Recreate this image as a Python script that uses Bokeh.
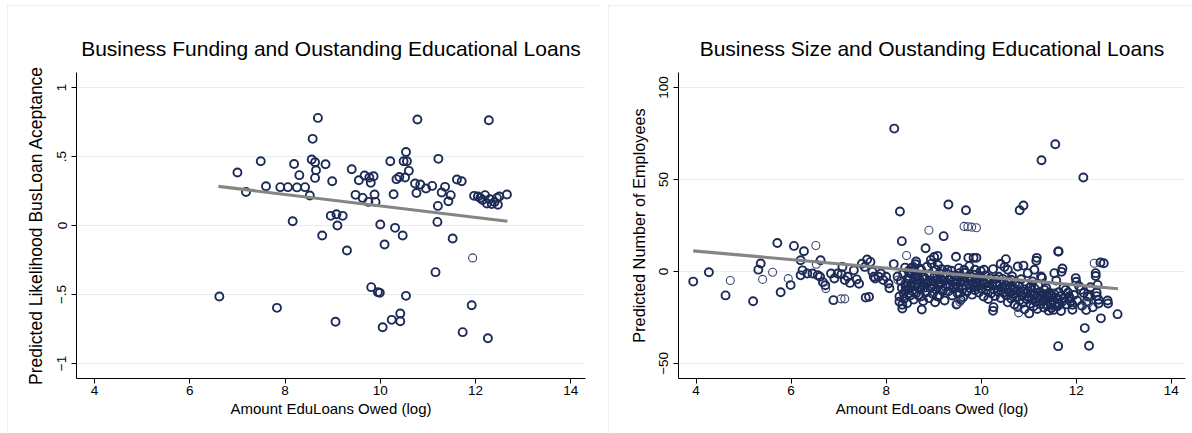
from bokeh.plotting import figure
from bokeh.layouts import row, column
from bokeh.models import FixedTicker, Range1d, Title, Spacer
from bokeh.embed import file_html
from bokeh.resources import INLINE

# ---------------- data ----------------
left_title = "Business Funding and Oustanding Educational Loans"
left_xlabel = "Amount EduLoans Owed (log)"
left_ylabel = "Predicted Likelihood BusLoan Aceptance"
right_title = "Business Size and Oustanding Educational Loans"
right_xlabel = "Amount EdLoans Owed (log)"
right_ylabel = "Predicted Number of Employees"

x_ticks = [4, 6, 8, 10, 12, 14]
left_y_ticks = [-1, -0.5, 0, 0.5, 1]
left_y_tick_labels = ["\u22121", "\u2212.5", "0", ".5", "1"]
right_y_ticks = [-50, 0, 50, 100]
right_y_tick_labels = ["\u221250", "0", "50", "100"]

left_points = [
    (6.62, -0.515), (7.00, 0.384), (7.18, 0.243), (7.49, 0.466), (7.60, 0.285),
    (7.83, -0.597), (7.90, 0.278), (8.06, 0.278), (8.25, 0.276), (8.42, 0.278),
    (8.19, 0.446), (8.30, 0.365), (8.16, 0.031), (8.52, 0.217), (8.56, 0.478),
    (8.58, 0.628), (8.63, 0.459), (8.65, 0.400), (8.63, 0.345), (8.69, 0.780),
    (8.85, 0.444), (8.78, -0.072), (8.99, 0.321), (8.96, 0.070), (9.08, 0.082),
    (9.21, 0.070), (9.10, 0.000), (9.06, -0.698), (9.30, -0.181), (9.40, 0.408),
    (9.48, 0.222), (9.55, 0.328), (9.63, 0.200), (9.67, 0.362), (9.77, 0.348),
    (9.80, 0.309), (9.86, 0.357), (9.88, 0.225), (9.90, 0.171), (9.75, 0.171),
    (9.81, -0.447), (9.95, -0.483), (9.99, -0.488), (10.00, 0.007), (10.05, -0.737),
    (10.09, -0.138), (10.21, 0.466), (10.24, -0.684), (10.28, 0.227), (10.31, -0.017),
    (10.34, 0.336), (10.40, 0.352), (10.42, -0.638), (10.42, -0.694), (10.47, -0.072),
    (10.49, 0.466), (10.56, 0.466), (10.54, 0.533), (10.52, 0.348), (10.54, -0.510),
    (10.60, 0.396), (10.73, 0.304), (10.84, 0.297), (10.76, 0.236), (10.78, 0.768),
    (10.96, 0.268), (11.09, 0.287), (11.16, -0.338), (11.20, 0.026), (11.21, 0.142),
    (11.22, 0.483), (11.29, 0.239), (11.36, 0.280), (11.43, 0.176), (11.48, 0.220),
    (11.52, -0.094), (11.61, 0.333), (11.71, 0.321), (11.73, -0.773), (11.92, -0.578),
    (11.97, 0.215), (12.05, 0.210), (12.10, 0.200), (12.15, 0.185), (12.20, 0.220),
    (12.24, 0.160), (12.26, -0.817), (12.28, 0.763), (12.30, 0.190), (12.34, 0.155),
    (12.40, 0.170), (12.45, 0.200), (12.47, 0.150), (12.50, 0.210), (12.66, 0.225),
]
left_points_light = [(11.94, -0.235)]
left_fit_x = [6.60, 12.67]
left_fit_y = [0.283, 0.031]

right_points = [
    (3.94, -5.5), (4.27, -0.4), (4.62, -13.0), (5.20, -16.2), (5.31, 1.0), (5.36, 4.3),
    (5.71, 15.5), (5.78, -11.3), (5.99, -7.4), (6.06, 13.9), (6.20, 6.1), (6.24, 0.6),
    (6.20, -2.1), (6.27, 11.0), (6.34, -1.1), (6.45, -1.1), (6.56, -2.0), (6.61, -2.9),
    (6.62, 6.1), (6.67, -5.8), (6.72, -7.5), (6.89, -15.6), (6.84, -1.1), (6.91, -3.8),
    (6.98, -1.1), (7.06, -1.5), (7.08, 2.5), (7.13, -4.7), (7.19, -2.9), (7.24, -6.2),
    (7.32, 0.6), (7.38, -4.3), (7.43, -6.7), (7.49, 4.2), (7.55, 2.5), (7.60, 6.5),
    (7.67, 5.2), (7.71, -0.2), (7.74, -2.9), (7.57, -14.2), (7.64, -13.8), (7.77, -3.8),
    (7.84, -2.9), (7.89, -1.1), (7.94, -4.7), (8.00, -2.9), (8.05, -6.5), (8.07, -9.1),
    (8.16, 4.0), (8.17, 77.7), (8.29, 32.6), (8.33, 16.5), (8.28, -16.5), (8.34, -20.1),
    (8.37, -12.0), (8.41, -10.2), (8.45, -3.8), (8.51, -1.1), (8.57, 2.5), (8.62, 3.9),
    (8.65, -2.9), (8.69, -8.3), (8.71, 1.6), (8.83, 12.6), (9.21, 19.2), (9.31, 36.4),
    (9.47, 8.0), (9.68, 33.3), (8.75, -20.7), (10.25, -21.4), (10.81, 33.3), (10.89, 35.9),
    (11.01, -22.8), (11.16, 5.8), (11.27, 60.5), (11.56, 69.2), (11.62, 10.9), (11.62, -40.6),
    (11.69, -0.2), (11.87, -14.7), (11.92, -20.8), (12.00, -5.6), (12.15, 51.1), (12.18, -30.8),
    (12.21, -21.0), (12.27, -40.4), (12.41, -2.5), (12.43, -13.4), (12.47, -17.4), (12.51, 4.9),
    (12.58, 4.5), (12.52, -25.5), (12.67, -17.4), (12.87, -23.2),
    (8.24, -2.7), (8.28, -13.6), (8.34, -18.1), (8.41, -8.2), (8.48, -11.8), (8.55, -0.9),
    (8.59, 0.9), (8.63, 5.4), (8.73, -13.6), (8.77, -2.7), (8.84, -6.4), (8.94, 6.3),
    (9.01, 7.9), (9.05, 0.9), (9.08, 8.5), (9.12, -0.9), (9.15, -10.0), (9.08, -13.6),
    (9.22, -2.7), (9.29, 0.9), (9.36, -2.7), (9.43, -8.2), (9.50, -11.8), (9.57, -15.4),
    (9.54, -0.9), (9.64, 0.9), (9.73, 7.4), (9.84, 7.4), (9.90, 7.4), (9.78, -2.7),
    (9.87, 0.9), (9.92, -6.4), (9.99, -2.7), (10.06, 0.9), (10.13, -8.2), (10.26, -19.4),
    (10.31, -6.4), (10.41, 4.1), (10.52, 6.7), (10.56, 0.9), (10.63, -4.5), (10.70, -10.0),
    (10.77, 2.7), (10.89, 3.2), (10.98, -0.9), (11.05, -8.2), (11.12, 0.9), (11.17, 7.4),
    (11.26, -2.7), (11.33, -10.0), (11.40, -13.6), (11.47, -18.1), (11.54, -0.9), (11.61, -17.2),
    (11.63, 10.9), (11.71, 1.6), (11.78, -10.0), (11.85, -13.6), (11.92, -18.1), (11.99, -3.6),
    (12.10, -10.0), (12.24, -13.6), (12.29, -13.6), (12.41, -0.9), (12.43, -11.4), (12.47, -15.4),
    (12.66, -15.8), (12.45, -7.3),
    (8.31, -5.2), (8.33, -8.9), (8.36, -1.4), (8.38, -14.8), (8.40, 2.1), (8.42, -6.6),
    (8.44, -17.3), (8.46, -9.7), (8.47, 0.3), (8.49, -4.1), (8.50, -13.2), (8.52, -7.8),
    (8.53, 1.9), (8.55, -10.6), (8.56, -5.9), (8.58, -15.3), (8.60, -3.3), (8.61, -8.1),
    (8.63, -11.9), (8.64, -1.6), (8.66, -6.8), (8.68, -13.0), (8.70, -4.4), (8.72, -9.5),
    (8.74, 0.8), (8.76, -7.2), (8.78, -16.1), (8.79, -3.0),
    (8.81, -8.8), (8.83, -4.0), (8.85, -11.3), (8.86, 2.6), (8.88, -6.1), (8.90, -14.5),
    (8.91, -1.9), (8.93, -9.0), (8.95, -5.3), (8.96, 4.4), (8.98, -12.1), (9.00, -7.4),
    (9.02, -2.6), (9.03, -16.7), (9.05, -9.9), (9.07, -4.8), (9.09, 3.5), (9.10, -7.0),
    (9.12, -12.9), (9.14, -3.7), (9.16, -6.3), (9.17, 1.2), (9.19, -10.6), (9.21, -5.1),
    (9.23, -15.8), (9.25, -8.4), (9.27, -1.0), (9.28, -6.9),
    (9.31, -10.8), (9.33, -4.2), (9.35, -7.6), (9.37, 0.4), (9.39, -13.1), (9.41, -5.5),
    (9.42, -9.3), (9.44, -2.2), (9.46, -6.9), (9.48, -18.0), (9.50, -4.6), (9.52, -8.7),
    (9.53, 1.8), (9.55, -11.7), (9.57, -6.0), (9.59, -3.1), (9.61, -9.6), (9.62, -14.0),
    (9.64, -5.2), (9.66, -0.7), (9.68, -7.8), (9.70, -11.0), (9.71, -3.9), (9.73, -6.6),
    (9.75, 2.9), (9.77, -9.1), (9.79, -5.0), (9.81, -12.6), (9.83, -7.3), (9.85, -1.8),
    (9.87, -10.2), (9.89, -5.7),
    (9.91, -8.4), (9.93, -3.4), (9.95, -11.5), (9.97, -6.1), (9.99, 0.2), (10.01, -9.2),
    (10.03, -4.8), (10.05, -13.6), (10.07, -7.0), (10.09, -2.1), (10.11, -10.4), (10.13, -5.6),
    (10.15, -15.0), (10.17, -8.0), (10.19, -3.7), (10.21, -11.9), (10.23, -6.5), (10.25, 1.3),
    (10.27, -9.8), (10.29, -13.3), (10.31, -4.1), (10.33, -7.7), (10.35, -10.9), (10.37, -2.9),
    (10.39, -6.2), (10.41, -14.4), (10.43, -8.8), (10.45, -4.0), (10.47, -11.6), (10.49, 2.4),
    (10.51, -7.5), (10.53, -13.0), (10.54, -9.9), (10.56, -16.8), (10.58, -5.3), (10.60, -11.4),
    (10.61, -8.0), (10.63, -14.7), (10.65, -2.6), (10.67, -12.2), (10.68, -9.0), (10.70, -17.9),
    (10.72, -6.4), (10.74, -13.8), (10.75, -10.5), (10.77, -19.3), (10.79, -7.9), (10.81, -15.6),
    (10.82, -11.1), (10.84, -4.2), (10.86, -13.4), (10.88, -17.0), (10.89, -9.6), (10.91, -20.6),
    (10.93, -12.0), (10.95, -6.9), (10.96, -15.1), (10.98, -10.8),
    (11.00, -13.9), (11.02, -8.7), (11.03, -17.6), (11.05, -11.9), (11.07, -15.2), (11.08, -5.4),
    (11.10, -19.0), (11.12, -12.8), (11.13, -9.4), (11.15, -16.5), (11.17, -13.6), (11.18, -20.4),
    (11.20, -7.7), (11.22, -14.9), (11.23, -11.2), (11.25, -17.8), (11.27, -13.1), (11.28, -3.5),
    (11.30, -16.0), (11.32, -19.6), (11.33, -12.4), (11.35, -15.5), (11.37, -9.0), (11.38, -18.3),
    (11.40, -14.0), (11.42, -21.3), (11.43, -11.6), (11.45, -16.9), (11.47, -13.3), (11.48, -19.8),
    (11.50, -15.7), (11.52, -20.9), (11.53, -12.0), (11.55, -17.5), (11.57, -14.3), (11.58, -4.9),
    (11.60, -19.1), (11.62, -15.0), (11.63, -11.3), (11.65, -18.0), (11.67, -13.5), (11.68, -21.5),
    (11.70, -16.4), (11.73, -8.9), (11.75, -14.6), (11.80, -17.9), (11.83, -11.5), (11.88, -16.2),
    (11.95, -12.8), (12.02, -15.9), (12.06, -8.1), (12.12, -18.6), (12.16, -11.7), (12.22, -16.4),
    (12.30, -8.6), (12.35, -19.5),
]
right_points_light = [
    (4.72, -4.9), (5.40, -4.3), (5.61, -0.4), (5.94, -3.9), (6.52, 14.1), (6.53, 3.9),
    (6.73, -9.3), (7.05, -14.9), (7.13, -14.9), (8.25, -4.7), (8.43, 8.7), (8.90, 22.4),
    (9.64, 24.5), (9.72, 24.3), (9.80, 24.1), (9.90, 23.8), (10.79, -22.5), (12.38, 4.5),
    (12.20, -17.0), (12.26, -17.0), (9.50, -17.5), (9.55, -16.5),
]
right_fit_x = [3.94, 12.88]
right_fit_y = [11.2, -9.4]

# ---------------- style ----------------
FONT = "Liberation Sans"
NAVY = "#1c2a56"
NAVY_LIGHT = "#3b4670"
FIT = "#858585"
GRID = "#e6eef0"
PANEL = "#e3ebee"
FIG_H = 428


def panel(width, mb_left, mb_right, x0, x1, y0, y1, title, xlabel, ylabel, ylabel_size,
          yticks, ylabels, pts, pts_light, fx, fy):
    p = figure(width=width, height=FIG_H, x_range=Range1d(x0, x1), y_range=Range1d(y0, y1),
               output_backend="svg", toolbar_location=None,
               min_border_left=mb_left, min_border_right=mb_right,
               min_border_top=67, min_border_bottom=FIG_H - 67 - 306)
    p.title = Title(text=title, align="center", text_font=FONT, text_font_size="21px",
                    text_font_style="normal", text_color="black", standoff=25)
    p.outline_line_color = None
    p.background_fill_color = "white"
    p.border_fill_color = "white"
    p.styles = {"outline": "1px solid " + PANEL, "outline-offset": "-1px"}

    p.xgrid.grid_line_color = None
    p.ygrid.grid_line_color = GRID
    p.ygrid.grid_line_width = 1
    p.ygrid.ticker = FixedTicker(ticks=yticks)

    for ax in (p.xaxis[0], p.yaxis[0]):
        ax.axis_line_color = "black"
        ax.axis_line_width = 1
        ax.major_tick_line_color = "black"
        ax.major_tick_in = 0
        ax.major_tick_out = 5
        ax.minor_tick_line_color = None
        ax.major_label_text_font = FONT
        ax.major_label_text_font_size = "13.5px"
        ax.major_label_text_color = "black"
        ax.axis_label_text_font = FONT
        ax.axis_label_text_font_style = "normal"
        ax.axis_label_text_color = "black"

    p.xaxis.ticker = FixedTicker(ticks=x_ticks)
    p.xaxis.axis_label = xlabel
    p.xaxis.axis_label_text_font_size = "15px"
    p.xaxis.major_label_standoff = 2
    p.xaxis.axis_label_standoff = 2

    p.yaxis.ticker = FixedTicker(ticks=yticks)
    p.yaxis.major_label_overrides = {float(t): l for t, l in zip(yticks, ylabels)}
    p.yaxis.major_label_orientation = "vertical"
    p.yaxis.axis_label = ylabel
    p.yaxis.axis_label_text_font_size = ylabel_size
    p.yaxis.major_label_standoff = 5
    p.yaxis.axis_label_standoff = 9

    p.scatter([q[0] for q in pts], [q[1] for q in pts], marker="circle", size=8,
              fill_color=None, line_color=NAVY, line_width=1.9)
    p.scatter([q[0] for q in pts_light], [q[1] for q in pts_light], marker="circle", size=8,
              fill_color=None, line_color=NAVY_LIGHT, line_width=1.1)
    p.line(fx, fy, line_color=FIT, line_width=3.2)
    return p


p1 = panel(593, 69, 15, 3.62, 14.31, -1.109, 1.109, left_title, left_xlabel, left_ylabel,
           "17.5px", left_y_ticks, left_y_tick_labels, left_points, left_points_light,
           left_fit_x, left_fit_y)
p2 = panel(584, 70, 7, 3.63, 14.30, -58.2, 108.2, right_title, right_xlabel, right_ylabel,
           "16.3px", right_y_ticks, right_y_tick_labels, right_points, right_points_light,
           right_fit_x, right_fit_y)

p = column(Spacer(height=5),
           row(Spacer(width=7), p1, Spacer(width=8), p2, spacing=0),
           spacing=0)
open("out.html", "w").write(file_html(p, INLINE))
